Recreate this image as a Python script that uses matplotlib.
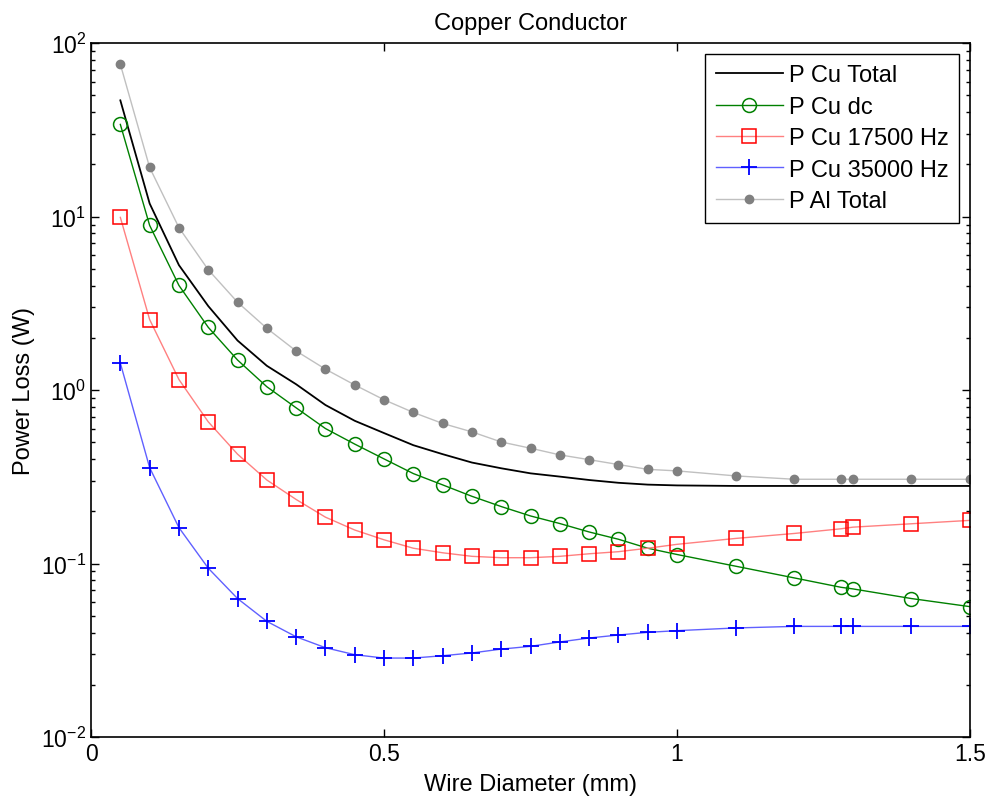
import matplotlib
matplotlib.use("Agg")
import matplotlib.pyplot as plt
from matplotlib.ticker import LogLocator, NullFormatter

plt.rcParams['font.family'] = ['Liberation Sans', 'DejaVu Sans']
plt.rcParams['mathtext.fontset'] = 'custom'
plt.rcParams['mathtext.rm'] = 'Liberation Sans'
plt.rcParams['mathtext.it'] = 'Liberation Sans'

# wire diameter (mm)
diameter = [0.05, 0.10, 0.15, 0.20, 0.25, 0.30, 0.35, 0.40, 0.45, 0.50,
            0.55, 0.60, 0.65, 0.70, 0.75, 0.80, 0.85, 0.90, 0.95, 1.00,
            1.10, 1.20, 1.28, 1.30, 1.40, 1.50]

p_cu_total = [46.8, 11.9, 5.25, 3.05, 1.93, 1.38, 1.08, 0.82, 0.665, 0.565,
              0.481, 0.427, 0.382, 0.354, 0.331, 0.317, 0.303, 0.292, 0.285, 0.282,
              0.280, 0.280, 0.280, 0.280, 0.280, 0.280]

p_cu_dc = [34.0, 8.9, 4.01, 2.30, 1.49, 1.045, 0.79, 0.60, 0.488, 0.401,
           0.330, 0.284, 0.244, 0.213, 0.188, 0.170, 0.152, 0.138, 0.1225, 0.1127,
           0.0965, 0.0826, 0.0729, 0.0714, 0.0628, 0.0564]

p_cu_17500 = [9.9, 2.55, 1.15, 0.656, 0.427, 0.303, 0.234, 0.185, 0.156, 0.137,
              0.1225, 0.1153, 0.110, 0.108, 0.108, 0.110, 0.1138, 0.117, 0.1225, 0.129,
              0.1395, 0.149, 0.1586, 0.162, 0.1695, 0.1773]

p_cu_35000 = [1.43, 0.357, 0.161, 0.094, 0.0628, 0.0464, 0.0378, 0.0327, 0.0298, 0.0285,
              0.0285, 0.0294, 0.0305, 0.0321, 0.0333, 0.0353, 0.0372, 0.0387, 0.0401, 0.0410,
              0.0425, 0.0434, 0.0434, 0.0434, 0.0434, 0.0434]

p_al_total = [75.6, 19.2, 8.64, 4.94, 3.21, 2.27, 1.68, 1.32, 1.07, 0.879,
              0.743, 0.642, 0.574, 0.502, 0.462, 0.423, 0.397, 0.372, 0.349, 0.342,
              0.320, 0.306, 0.306, 0.306, 0.306, 0.306]

fig = plt.figure(figsize=(9.95, 8.03), dpi=100)
ax = fig.add_axes([0.0915, 0.081, 0.8834, 0.864])

ax.plot(diameter, p_cu_total, color='black', lw=1.3, label='P Cu Total')
ax.plot(diameter, p_cu_dc, color='#008000', lw=1.0, marker='o', ms=10,
        mfc='none', mec='#008000', mew=1.1, label='P Cu dc')
ax.plot(diameter, p_cu_17500, color='#ff8080', lw=1.0, marker='s', ms=10,
        mfc='none', mec='red', mew=1.1, label='P Cu 17500 Hz')
ax.plot(diameter, p_cu_35000, color='#6060ff', lw=1.0, marker='+', ms=12,
        mec='blue', mew=1.3, label='P Cu 35000 Hz')
ax.plot(diameter, p_al_total, color='#c0c0c0', lw=1.0, marker='o', ms=6,
        mfc='#808080', mec='#808080', label='P Al Total')

ax.set_yscale('log')
ax.set_xlim(0, 1.5)
ax.set_ylim(1e-2, 1e2)
ax.set_xticks([0, 0.5, 1, 1.5])
ax.set_xticklabels(['0', '0.5', '1', '1.5'])
ax.yaxis.set_minor_locator(LogLocator(base=10, subs=range(2, 10), numticks=20))
ax.yaxis.set_minor_formatter(NullFormatter())

ax.tick_params(which='both', direction='in', top=True, right=True, labelsize=16.5, width=1)
ax.tick_params(which='major', length=6)
ax.tick_params(which='minor', length=3)
for s in ax.spines.values():
    s.set_linewidth(1.2)

ax.set_xlabel('Wire Diameter (mm)', fontsize=17, labelpad=6)
ax.set_ylabel('Power Loss (W)', fontsize=17, labelpad=4)
ax.set_title('Copper Conductor', fontsize=17, pad=10)

leg = ax.legend(loc='upper right', fontsize=17, frameon=True, fancybox=False,
                edgecolor='black', framealpha=1, handlelength=2.85,
                handletextpad=0.25, borderpad=0.45, borderaxespad=0.45,
                labelspacing=0.4)
leg.get_frame().set_linewidth(1.0)

fig.savefig('out.png', dpi=100)
